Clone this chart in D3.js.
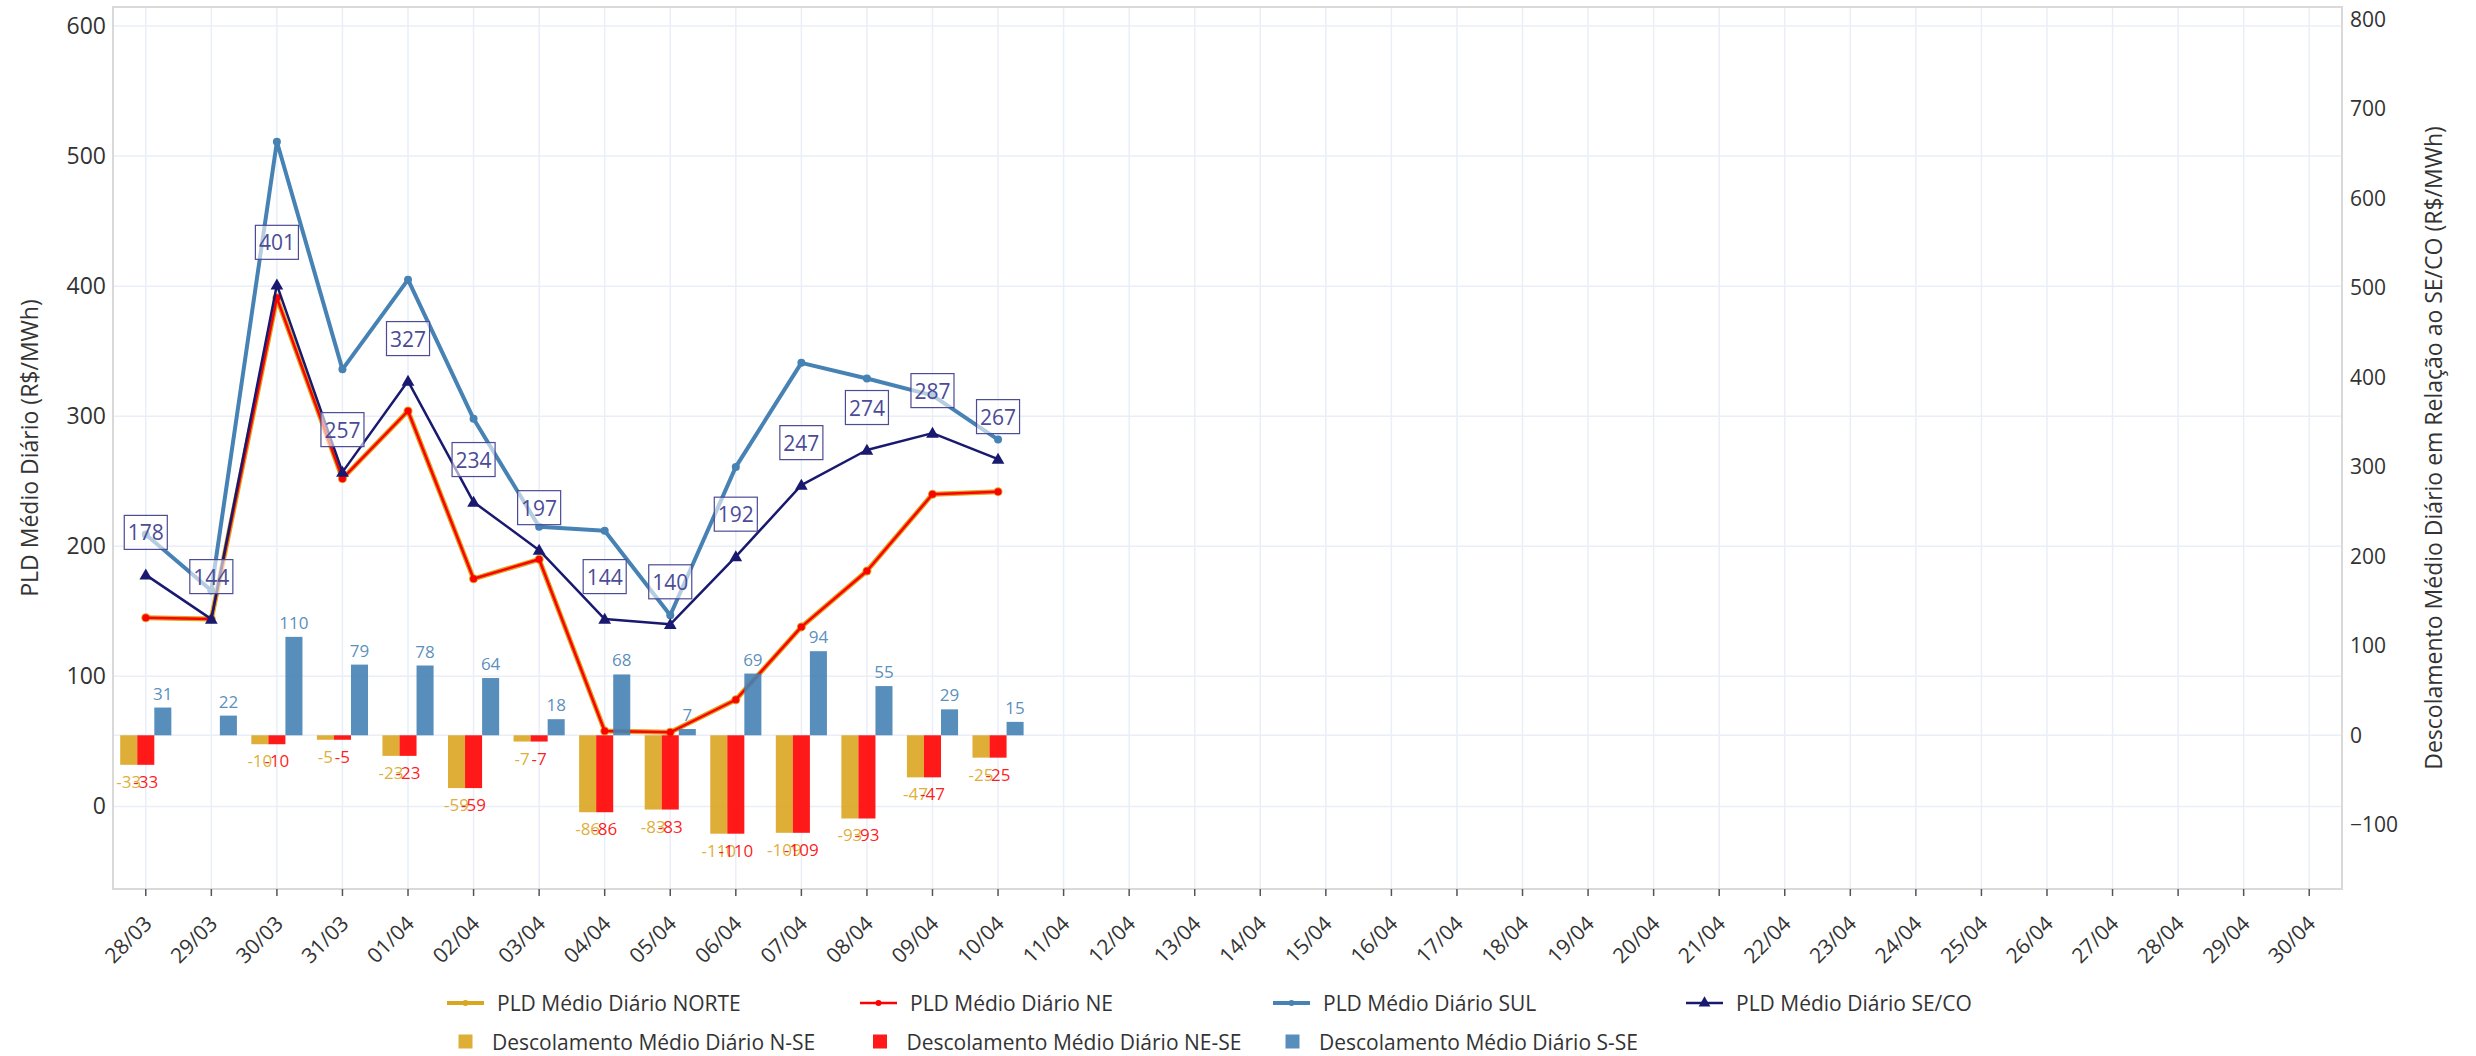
<!DOCTYPE html>
<html><head><meta charset="utf-8">
<script src="https://cdn.jsdelivr.net/npm/d3@7"></script>
<style>
html,body{margin:0;padding:0;background:#fff;}
svg{display:block;font-family:"Open Sans",sans-serif;}
</style>
</head><body>
<svg id="c" width="2476" height="1056"></svg>
<script>
// ---------- DATA ----------
const categories = ["28/03","29/03","30/03","31/03","01/04","02/04","03/04","04/04","05/04","06/04",
  "07/04","08/04","09/04","10/04","11/04","12/04","13/04","14/04","15/04","16/04","17/04","18/04",
  "19/04","20/04","21/04","22/04","23/04","24/04","25/04","26/04","27/04","28/04","29/04","30/04"];
const pldNORTE = [145,144,391,252,304,175,190,58,57,82,138,181,240,242];
const pldNE    = [145,144,391,252,304,175,190,58,57,82,138,181,240,242];
const pldSUL   = [209,166,511,336,405,298,215,212,147,261,341,329,316,282];
const pldSECO  = [178,144,401,257,327,234,197,144,140,192,247,274,287,267];
const descNSE  = [-33,null,-10,-5,-23,-59,-7,-86,-83,-110,-109,-93,-47,-25];
const descNESE = [-33,null,-10,-5,-23,-59,-7,-86,-83,-110,-109,-93,-47,-25];
const descSSE  = [31,22,110,79,78,64,18,68,7,69,94,55,29,15];
const leftTicks  = [0,100,200,300,400,500,600];
const rightTicks = [-100,0,100,200,300,400,500,600,700,800];
const lineNames = ["PLD Médio Diário NORTE","PLD Médio Diário NE","PLD Médio Diário SUL","PLD Médio Diário SE/CO"];
const barNames  = ["Descolamento Médio Diário N-SE","Descolamento Médio Diário NE-SE","Descolamento Médio Diário S-SE"];
const leftTitle  = "PLD Médio Diário (R$/MWh)";
const rightTitle = "Descolamento Médio Diário em Relação ao SE/CO (R$/MWh)";

// ---------- LAYOUT ----------
const C = {gold:"#daa520", red:"#ff0000", blue:"#4682b4", navy:"#191970", grid:"#e9eef7", ann:"#4b4b96", text:"#333"};
const P = {left:113, right:2342, top:7, bottom:889};
const svg = d3.select("#c");

const x = d3.scaleBand().domain(categories).range([P.left, P.right]);
const yL = d3.scaleLinear().domain([-63.5, 614.6]).range([P.bottom, P.top]);
const yR = d3.scaleLinear().domain([-171.8, 814]).range([P.bottom, P.top]);
const cx = d => x(d) + x.bandwidth()/2;

// grid
const g = svg.append("g");
g.selectAll("line.v").data(categories).join("line")
  .attr("x1", cx).attr("x2", cx).attr("y1", P.top).attr("y2", P.bottom)
  .attr("stroke", C.grid).attr("stroke-width", 1.5);
g.selectAll("line.h").data(leftTicks).join("line")
  .attr("x1", P.left).attr("x2", P.right).attr("y1", d=>yL(d)).attr("y2", d=>yL(d))
  .attr("stroke", C.grid).attr("stroke-width", 1.5);
g.append("line").attr("x1", P.left).attr("x2", P.right).attr("y1", yR(0)).attr("y2", yR(0))
  .attr("stroke", C.grid).attr("stroke-width", 1.5);

// border
svg.append("rect").attr("x", P.left).attr("y", P.top).attr("width", P.right-P.left).attr("height", P.bottom-P.top)
  .attr("fill","none").attr("stroke","#d9d9d9").attr("stroke-width",2);

// axes
const axL = svg.append("g").attr("transform", `translate(${P.left},0)`)
  .call(d3.axisLeft(yL).tickValues(leftTicks).tickSize(0).tickPadding(7));
axL.select(".domain").remove();
axL.selectAll("text").attr("font-size", 23).attr("fill", C.text).attr("font-family", "Open Sans");

const axR = svg.append("g").attr("transform", `translate(${P.right},0)`)
  .call(d3.axisRight(yR).tickValues(rightTicks).tickSize(0).tickPadding(8));
axR.select(".domain").remove();
axR.selectAll("text").attr("font-size", 21).attr("fill", C.text).attr("font-family", "Open Sans");

const axB = svg.append("g").attr("transform", `translate(0,${P.bottom})`)
  .call(d3.axisBottom(x).tickSize(7));
axB.select(".domain").remove();
axB.selectAll(".tick line").attr("stroke", "#555").attr("stroke-width", 1.5);
axB.selectAll("text").attr("font-size", 21).attr("fill", C.text).attr("font-family", "Open Sans")
  .attr("text-anchor", "end").attr("x", 0).attr("y", 0).attr("dy", 0)
  .attr("transform", "translate(7.5,36) rotate(-45)");

// axis titles
svg.append("text").attr("transform", `translate(29,${(P.top+P.bottom)/2}) rotate(-90)`)
  .attr("text-anchor","middle").attr("dominant-baseline","central")
  .attr("font-size", 23).attr("fill", C.text).text(leftTitle);
svg.append("text").attr("transform", `translate(2433,${(P.top+P.bottom)/2}) rotate(-90)`)
  .attr("text-anchor","middle").attr("dominant-baseline","central")
  .attr("font-size", 23).attr("fill", C.text).text(rightTitle);

// lines
function series(vals){ return vals.map((v,i)=>({c:categories[i], v})).filter(d=>d.v!=null); }
const lineGen = d3.line().x(d=>cx(d.c)).y(d=>yL(d.v));
function drawLine(vals, color, w, markerR, sym){
  const s = series(vals);
  const gg = svg.append("g");
  gg.append("path").datum(s).attr("d", lineGen).attr("fill","none").attr("stroke", color)
    .attr("stroke-width", w).attr("stroke-linejoin","round");
  if (sym) {
    gg.selectAll("path.m").data(s).join("path").attr("class","m")
      .attr("d", d3.symbol(d3.symbolTriangle, 70))
      .attr("transform", d=>`translate(${cx(d.c)},${yL(d.v)+1})`).attr("fill", color);
  } else {
    gg.selectAll("circle").data(s).join("circle").attr("cx", d=>cx(d.c)).attr("cy", d=>yL(d.v))
      .attr("r", markerR).attr("fill", color);
  }
}
drawLine(pldNORTE, C.gold, 5, 4.5);
drawLine(pldNE, C.red, 2.5, 3.5);
drawLine(pldSUL, C.blue, 4, 4);
drawLine(pldSECO, C.navy, 2.5, 0, true);

// bars
const bw = x.bandwidth()*0.26;
const barSets = [[descNSE, C.gold],[descNESE, C.red],[descSSE, C.blue]];
barSets.forEach(([vals,color],k)=>{
  const s = series(vals);
  svg.append("g").selectAll("rect").data(s).join("rect")
    .attr("x", d=>cx(d.c) - 1.5*bw + k*bw)
    .attr("width", bw)
    .attr("y", d=>Math.min(yR(0), yR(d.v)))
    .attr("height", d=>Math.abs(yR(d.v)-yR(0)))
    .attr("fill", color).attr("fill-opacity", 0.9);
});
barSets.forEach(([vals,color],k)=>{
  const s = series(vals);
  svg.append("g").selectAll("text").data(s).join("text")
    .attr("x", d=>cx(d.c) - 1.5*bw + (k+0.5)*bw)
    .attr("y", d=> d.v>=0 ? yR(d.v)-8 : yR(d.v)+23)
    .attr("text-anchor","middle").attr("font-size",17)
    .attr("fill", color).attr("fill-opacity", 0.9)
    .text(d=>d3.format("d")(d.v).replace("−","-"));
});

// annotations (SE/CO values)
const annG = svg.append("g");
series(pldSECO).forEach(d=>{
  const ax = cx(d.c), ay = yL(d.v) - 42.5;
  const grp = annG.append("g");
  const rect = grp.append("rect");
  const t = grp.append("text").attr("x", ax).attr("y", ay).attr("text-anchor","middle")
    .attr("dominant-baseline","central").attr("font-size",21).attr("fill", C.ann).text(d3.format("d")(d.v));
  const bb = t.node().getBBox();
  rect.attr("x", ax - bb.width/2 - 3.5).attr("y", ay - 17).attr("width", bb.width + 7).attr("height", 34)
    .attr("fill","#fff").attr("fill-opacity",0.6).attr("stroke", C.ann).attr("stroke-width",1.2);
});

// legend
const L = svg.append("g").attr("font-size",21).attr("fill", C.text);
const row1 = 1003, row2 = 1041.5;
const lineLeg = [
  {x:447, color:C.gold, w:4, name:lineNames[0]},
  {x:860, color:C.red, w:2.5, name:lineNames[1]},
  {x:1273, color:C.blue, w:4, name:lineNames[2]},
  {x:1686, color:C.navy, w:2.5, name:lineNames[3], tri:true}
];
lineLeg.forEach(it=>{
  L.append("line").attr("x1", it.x).attr("x2", it.x+37).attr("y1", row1).attr("y2", row1)
    .attr("stroke", it.color).attr("stroke-width", it.w);
  if (it.tri) L.append("path").attr("d", d3.symbol(d3.symbolTriangle, 60))
    .attr("transform", `translate(${it.x+18.5},${row1})`).attr("fill", it.color);
  else L.append("circle").attr("cx", it.x+18.5).attr("cy", row1).attr("r", 3).attr("fill", it.color);
  L.append("text").attr("x", it.x+50).attr("y", row1).attr("dominant-baseline","central").text(it.name);
});
const barLeg = [
  {x:465.5, color:C.gold, name:barNames[0]},
  {x:880, color:C.red, name:barNames[1]},
  {x:1292.5, color:C.blue, name:barNames[2]}
];
barLeg.forEach(it=>{
  L.append("rect").attr("x", it.x-7).attr("y", row2-7).attr("width",14).attr("height",14)
    .attr("fill", it.color).attr("fill-opacity",0.9);
  L.append("text").attr("x", it.x+26.5).attr("y", row2).attr("dominant-baseline","central").text(it.name);
});
</script>
</body></html>
